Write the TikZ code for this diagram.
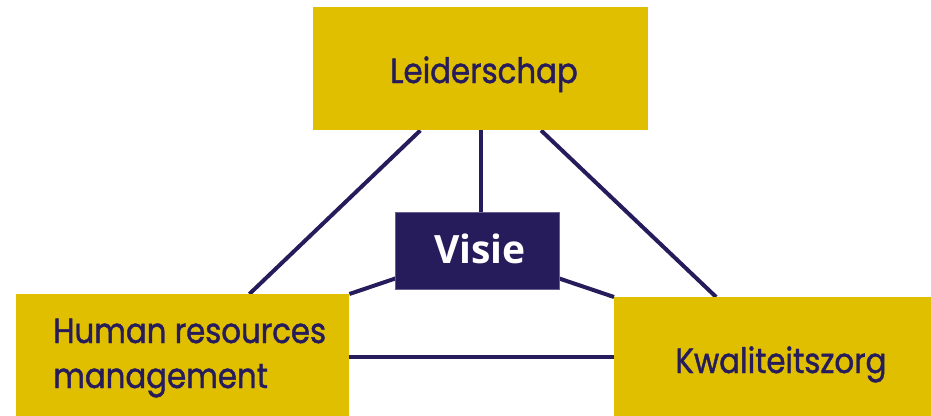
\documentclass[tikz,border=0pt]{standalone}
\usepackage{fontspec}
\setmainfont[FakeStretch=0.88,FakeBold=1.2]{Poppins}
\newfontfamily\visiefont{Open Sans}
\usetikzlibrary{calc,backgrounds}
\definecolor{goldbox}{RGB}{224,190,0}
\definecolor{navy}{RGB}{38,28,92}
\tikzset{
  goldrect/.style={rectangle, fill=goldbox, inner sep=0pt, anchor=north west},
  navyrect/.style={rectangle, fill=navy, draw=navy!70!white, line width=0.6pt, inner sep=0pt, anchor=north west},
  lbl/.style={text=navy, font=\fontsize{35}{45}\selectfont, inner sep=0pt},
  link/.style={draw=navy, line width=4pt}
}
\begin{document}
\begin{tikzpicture}[x=1pt,y=-1pt]
\useasboundingbox (0,0) rectangle (931,415);
\begin{scope}
\clip (0,0) rectangle (931,415);
\node[goldrect, minimum width=335pt, minimum height=123pt] (lead) at (313,7) {};
\node[navyrect, minimum width=164pt, minimum height=77pt] (visie) at (395,212) {};
\node[goldrect, minimum width=333pt, minimum height=126pt] (hrm) at (16,294) {};
\node[goldrect, minimum width=340pt, minimum height=120pt] (kz) at (614,297) {};
\node[lbl, anchor=base] (leadtext) at (484,83) {Leiderschap};
\node[lbl, anchor=base west] (hrmtext1) at (53,343) {Human resources};
\node[lbl, anchor=base west] (hrmtext2) at (53,388) {management};
\node[lbl, anchor=base] (kztext) at (781,373) {Kwaliteitszorg};
\node[anchor=base, inner sep=0pt, text=white, font=\visiefont\bfseries\fontsize{39}{45}\selectfont] (visietext) at (480,263) {Visie};
\end{scope}
\begin{scope}[on background layer]
\draw[link] ($(lead.south west)!0.32!(lead.south east)$) -- ($(hrm.north west)!0.70!(hrm.north east)$);
\draw[link] ($(lead.south west)!0.68!(lead.south east)$) -- ($(kz.north west)!0.30!(kz.north east)$);
\draw[link] (lead.south) -- (lead.south |- visie.north);
\draw[link] (visie.center) -- (hrm.north east);
\draw[link] (visie.center) -- (kz.north west);
\draw[link] (hrm.east) -- (kz.west);
\end{scope}
\end{tikzpicture}
\end{document}
